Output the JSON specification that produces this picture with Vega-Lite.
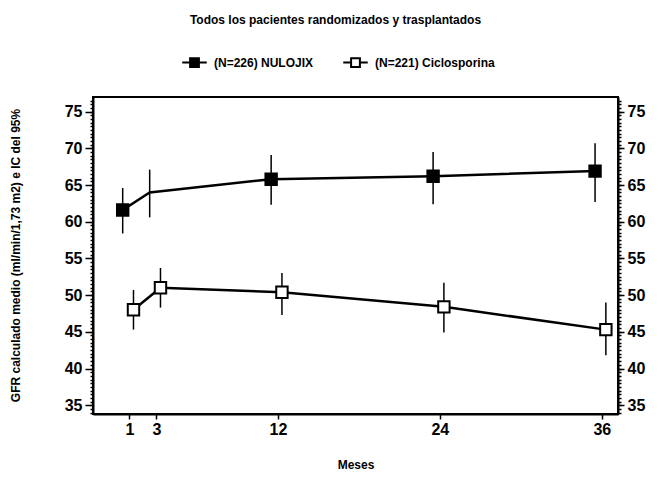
{
  "$schema": "https://vega.github.io/schema/vega-lite/v6.json",
  "autosize": "none",
  "width": 525,
  "height": 317,
  "padding": {"left": 93, "top": 97, "right": 42, "bottom": 70},
  "background": "white",
  "config": {
    "view": {"stroke": "black", "strokeWidth": 2},
    "font": "Liberation Sans Narrow, Liberation Sans, Arial",
    "axis": {"domainColor": "black", "domainWidth": 2, "tickColor": "black", "tickWidth": 1.5, "grid": false, "labelColor": "black", "titleColor": "black"}
  },
  "title": {
    "text": "Todos los pacientes randomizados y trasplantados",
    "fontSize": 12,
    "fontWeight": "bold",
    "font": "Liberation Sans Narrow, Liberation Sans, Arial",
    "anchor": "middle",
    "dx": -20,
    "offset": 22,
    "color": "black"
  },
  "data": {
    "values": [
      {"grupo": "(N=226) NULOJIX", "mes": 1, "media": 61.6, "inf": 58.4, "sup": 64.6, "marcador": true},
      {"grupo": "(N=226) NULOJIX", "mes": 3, "media": 64.0, "inf": 60.6, "sup": 67.1, "marcador": false},
      {"grupo": "(N=226) NULOJIX", "mes": 12, "media": 65.8, "inf": 62.3, "sup": 69.1, "marcador": true},
      {"grupo": "(N=226) NULOJIX", "mes": 24, "media": 66.2, "inf": 62.4, "sup": 69.5, "marcador": true},
      {"grupo": "(N=226) NULOJIX", "mes": 36, "media": 66.9, "inf": 62.7, "sup": 70.7, "marcador": true},
      {"grupo": "(N=221) Ciclosporina", "mes": 1, "media": 48.0, "inf": 45.3, "sup": 50.7, "marcador": true},
      {"grupo": "(N=221) Ciclosporina", "mes": 3, "media": 51.0, "inf": 48.3, "sup": 53.7, "marcador": true},
      {"grupo": "(N=221) Ciclosporina", "mes": 12, "media": 50.4, "inf": 47.3, "sup": 53.0, "marcador": true},
      {"grupo": "(N=221) Ciclosporina", "mes": 24, "media": 48.4, "inf": 44.9, "sup": 51.7, "marcador": true},
      {"grupo": "(N=221) Ciclosporina", "mes": 36, "media": 45.3, "inf": 41.8, "sup": 49.0, "marcador": true}
    ]
  },
  "transform": [
    {"calculate": "datum.grupo == '(N=226) NULOJIX' ? datum.mes - 0.5 : datum.mes + 0.3", "as": "pos"}
  ],
  "encoding": {
    "x": {
      "field": "pos", "type": "quantitative",
      "scale": {"domain": [-1.7, 37.2], "nice": false, "zero": false},
      "axis": {"values": [1, 3, 12, 24, 36], "orient": "bottom", "title": "Meses", "titleFontSize": 12, "titleFontWeight": "bold", "titleY": 50, "titleBaseline": "middle", "labelFontSize": 16, "labelFontWeight": "bold", "tickSize": 5, "labelPadding": 2, "labelFlush": false}
    }
  },
  "resolve": {"axis": {"y": "independent"}},
  "layer": [
    {
      "transform": [{"filter": "datum.grupo == '(N=226) NULOJIX'"}],
      "mark": {"type": "rule", "color": "black", "strokeWidth": 1.5},
      "encoding": {
        "y": {
          "field": "inf", "type": "quantitative",
          "scale": {"domain": [33.8, 77], "nice": false, "zero": false},
          "axis": {"orient": "left", "values": [34, 34.5, 35, 35.5, 36, 36.5, 37, 37.5, 38, 38.5, 39, 39.5, 40, 40.5, 41, 41.5, 42, 42.5, 43, 43.5, 44, 44.5, 45, 45.5, 46, 46.5, 47, 47.5, 48, 48.5, 49, 49.5, 50, 50.5, 51, 51.5, 52, 52.5, 53, 53.5, 54, 54.5, 55, 55.5, 56, 56.5, 57, 57.5, 58, 58.5, 59, 59.5, 60, 60.5, 61, 61.5, 62, 62.5, 63, 63.5, 64, 64.5, 65, 65.5, 66, 66.5, 67, 67.5, 68, 68.5, 69, 69.5, 70, 70.5, 71, 71.5, 72, 72.5, 73, 73.5, 74, 74.5, 75, 75.5, 76, 76.5],
            "labelExpr": "datum.value % 5 === 0 ? format(datum.value, 'd') : ''", "labelOverlap": false,
            "tickSize": 3,
            "title": "GFR calculado medio (ml/min/1,73 m2) e IC del 95%", "titleFontSize": 12, "titleFontWeight": "bold", "titleAngle": -90, "titleX": -78, "titleY": 158, "titleAlign": "center", "titleBaseline": "middle", "labelFontSize": 16, "labelFontWeight": "bold", "labelPadding": 8}
        },
        "y2": {"field": "sup"}
      }
    },
    {
      "transform": [{"filter": "datum.grupo == '(N=221) Ciclosporina'"}],
      "mark": {"type": "rule", "color": "black", "strokeWidth": 1.5},
      "encoding": {
        "y": {
          "field": "inf", "type": "quantitative",
          "axis": {"orient": "right", "values": [34, 34.5, 35, 35.5, 36, 36.5, 37, 37.5, 38, 38.5, 39, 39.5, 40, 40.5, 41, 41.5, 42, 42.5, 43, 43.5, 44, 44.5, 45, 45.5, 46, 46.5, 47, 47.5, 48, 48.5, 49, 49.5, 50, 50.5, 51, 51.5, 52, 52.5, 53, 53.5, 54, 54.5, 55, 55.5, 56, 56.5, 57, 57.5, 58, 58.5, 59, 59.5, 60, 60.5, 61, 61.5, 62, 62.5, 63, 63.5, 64, 64.5, 65, 65.5, 66, 66.5, 67, 67.5, 68, 68.5, 69, 69.5, 70, 70.5, 71, 71.5, 72, 72.5, 73, 73.5, 74, 74.5, 75, 75.5, 76, 76.5],
            "labelExpr": "datum.value % 5 === 0 ? format(datum.value, 'd') : ''", "labelOverlap": false,
            "tickSize": 3,
            "title": null, "labelFontSize": 16, "labelFontWeight": "bold", "labelPadding": 6}
        },
        "y2": {"field": "sup"}
      }
    },
    {
      "mark": {"type": "line", "color": "black", "strokeWidth": 2.5},
      "encoding": {
        "y": {
          "field": "media", "type": "quantitative",
          "axis": {"orient": "left", "values": [35, 40, 45, 50, 55, 60, 65, 70, 75], "labels": false, "domain": false, "title": null, "tickSize": 8, "tickWidth": 1.5}
        },
        "detail": {"field": "grupo"}
      }
    },
    {
      "transform": [{"filter": "datum.marcador"}],
      "mark": {"type": "point", "shape": "square", "size": 130, "stroke": "black", "strokeWidth": 2, "opacity": 1, "filled": true},
      "encoding": {
        "y": {
          "field": "media", "type": "quantitative",
          "axis": {"orient": "right", "values": [35, 40, 45, 50, 55, 60, 65, 70, 75], "labels": false, "domain": false, "title": null, "tickSize": 6, "tickWidth": 1.5}
        },
        "fill": {
          "field": "grupo", "type": "nominal",
          "scale": {"domain": ["(N=226) NULOJIX", "(N=221) Ciclosporina"], "range": ["black", "white"]},
          "legend": {
            "orient": "none", "legendX": 88, "legendY": -48, "direction": "horizontal", "title": null,
            "symbolType": "M-1,0H-0.36M0.36,0H1M-0.36,-0.36H0.36V0.36H-0.36Z",
            "symbolSize": 600, "symbolStrokeColor": "black", "symbolStrokeWidth": 2,
            "labelFontSize": 12, "labelFontWeight": "bold", "labelColor": "black", "columnPadding": 25, "labelOffset": 6
          }
        }
      }
    }
  ]
}
